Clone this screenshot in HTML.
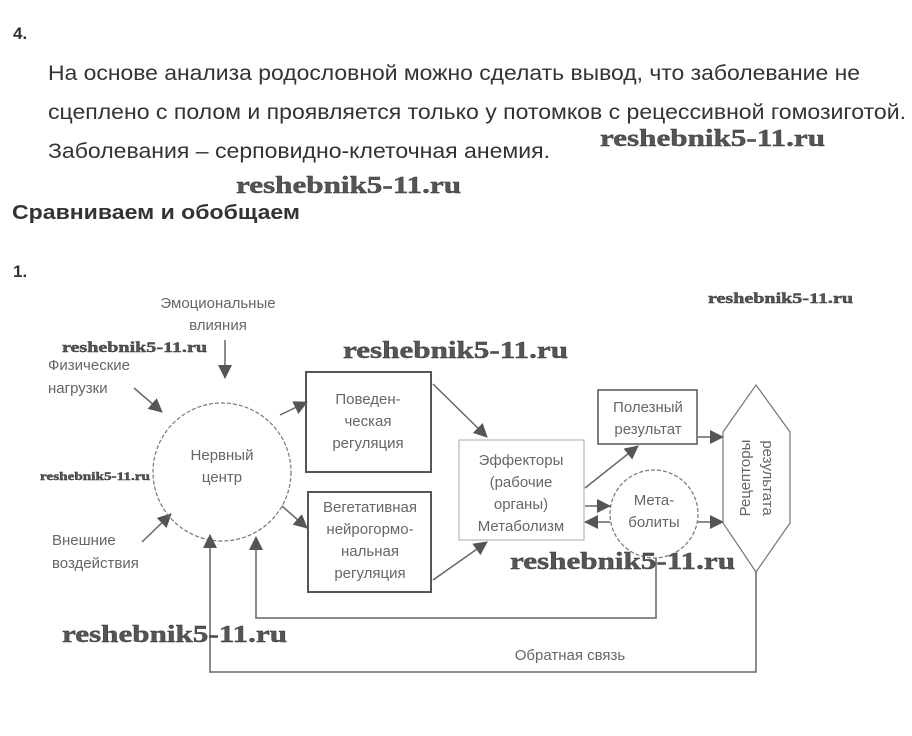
<!DOCTYPE html>
<html><head><meta charset="utf-8"><style>
html,body{margin:0;padding:0;background:#fff;}
svg{display:block;}
.t{font-family:"Liberation Sans",sans-serif;fill:#333;}
.d{font-family:"Liberation Sans",sans-serif;fill:#666;font-size:15px;}
.w{font-family:"Liberation Serif",serif;font-weight:bold;fill:#555;stroke:#333;stroke-width:0.4;}
.l{stroke:#666;stroke-width:1.5;fill:none;}
</style></head><body>
<svg width="912" height="736" viewBox="0 0 912 736" xmlns="http://www.w3.org/2000/svg">
<defs>
<marker id="b" markerWidth="14" markerHeight="14" refX="13" refY="7" orient="auto" markerUnits="userSpaceOnUse"><path d="M0,0 L14,7 L0,14 z" fill="#555"/></marker>
</defs>
<text class="t" x="13" y="39" font-size="17" font-weight="bold">4.</text>
<text class="t" x="48" y="80" font-size="21" textLength="812" lengthAdjust="spacingAndGlyphs">На основе анализа родословной можно сделать вывод, что заболевание не</text>
<text class="t" x="48" y="119" font-size="21" textLength="858" lengthAdjust="spacingAndGlyphs">сцеплено с полом и проявляется только у потомков с рецессивной гомозиготой.</text>
<text class="t" x="48" y="158" font-size="21" textLength="502" lengthAdjust="spacingAndGlyphs">Заболевания – серповидно-клеточная анемия.</text>
<text class="t" x="12" y="219" font-size="20" font-weight="bold" textLength="288" lengthAdjust="spacingAndGlyphs">Сравниваем и обобщаем</text>
<text class="t" x="13" y="277" font-size="17" font-weight="bold">1.</text>

<text class="d" x="218" y="308" text-anchor="middle">Эмоциональные</text>
<text class="d" x="218" y="330" text-anchor="middle" font-size="13">влияния</text>
<line class="l" x1="225" y1="340" x2="225" y2="378" marker-end="url(#b)"/>
<text class="d" x="48" y="370">Физические</text>
<text class="d" x="48" y="393">нагрузки</text>
<line class="l" x1="134" y1="388" x2="162" y2="412" marker-end="url(#b)"/>
<text class="d" x="52" y="545">Внешние</text>
<text class="d" x="52" y="568">воздействия</text>
<line class="l" x1="142" y1="542" x2="171" y2="514" marker-end="url(#b)"/>

<circle cx="222" cy="472" r="69" fill="none" stroke="#777" stroke-width="1.2" stroke-dasharray="4 2"/>
<text class="d" x="222" y="460" text-anchor="middle">Нервный</text>
<text class="d" x="222" y="482" text-anchor="middle">центр</text>

<rect x="306" y="372" width="125" height="100" fill="none" stroke="#555" stroke-width="2"/>
<text class="d" x="368" y="404" text-anchor="middle">Поведен-</text>
<text class="d" x="368" y="426" text-anchor="middle">ческая</text>
<text class="d" x="368" y="448" text-anchor="middle">регуляция</text>
<rect x="308" y="492" width="123" height="100" fill="none" stroke="#555" stroke-width="2"/>
<text class="d" x="370" y="512" text-anchor="middle" fill="#444">Вегетативная</text>
<text class="d" x="370" y="534" text-anchor="middle">нейрогормо-</text>
<text class="d" x="370" y="556" text-anchor="middle">нальная</text>
<text class="d" x="370" y="578" text-anchor="middle">регуляция</text>
<line class="l" x1="280" y1="415" x2="307" y2="402" marker-end="url(#b)"/>
<line class="l" x1="282" y1="506" x2="307" y2="528" marker-end="url(#b)"/>

<rect x="459" y="440" width="125" height="100" fill="none" stroke="#aaa" stroke-width="1"/>
<text class="d" x="521" y="465" text-anchor="middle">Эффекторы</text>
<text class="d" x="521" y="487" text-anchor="middle">(рабочие</text>
<text class="d" x="521" y="509" text-anchor="middle">органы)</text>
<text class="d" x="521" y="531" text-anchor="middle">Метаболизм</text>
<line class="l" x1="433" y1="384" x2="487" y2="437" marker-end="url(#b)"/>
<line class="l" x1="433" y1="580" x2="487" y2="542" marker-end="url(#b)"/>

<rect x="598" y="390" width="99" height="54" fill="none" stroke="#555" stroke-width="1.5"/>
<text class="d" x="648" y="412" text-anchor="middle">Полезный</text>
<text class="d" x="648" y="434" text-anchor="middle">результат</text>
<line class="l" x1="585" y1="488" x2="638" y2="446" marker-end="url(#b)"/>
<line class="l" x1="698" y1="437" x2="723" y2="437" marker-end="url(#b)"/>

<circle cx="654" cy="514" r="44" fill="none" stroke="#777" stroke-width="1.2" stroke-dasharray="4 2"/>
<text class="d" x="654" y="505" text-anchor="middle">Мета-</text>
<text class="d" x="654" y="527" text-anchor="middle">болиты</text>
<line class="l" x1="585" y1="506" x2="610" y2="506" marker-end="url(#b)"/>
<line class="l" x1="610" y1="522" x2="585" y2="522" marker-end="url(#b)"/>
<line class="l" x1="698" y1="522" x2="723" y2="522" marker-end="url(#b)"/>

<polygon points="756,385 790,432 790,523 756,572 723,523 723,432" fill="none" stroke="#777" stroke-width="1.2"/>
<text class="d" transform="translate(750,478) rotate(-90)" text-anchor="middle">Рецепторы</text>
<text class="d" transform="translate(763,478) rotate(90)" text-anchor="middle">результата</text>

<polyline class="l" points="656,558 656,618 256,618 256,537" marker-end="url(#b)" stroke="#888"/>
<polyline class="l" points="756,572 756,672 210,672 210,535" marker-end="url(#b)"/>
<text class="d" x="570" y="660" text-anchor="middle">Обратная связь</text>

<text class="w" x="600" y="146" font-size="24" textLength="225" lengthAdjust="spacingAndGlyphs">reshebnik5-11.ru</text>
<text class="w" x="236" y="193" font-size="24" textLength="225" lengthAdjust="spacingAndGlyphs">reshebnik5-11.ru</text>
<text class="w" x="708" y="303" font-size="15" textLength="145" lengthAdjust="spacingAndGlyphs">reshebnik5-11.ru</text>
<text class="w" x="62" y="352" font-size="15" textLength="145" lengthAdjust="spacingAndGlyphs">reshebnik5-11.ru</text>
<text class="w" x="343" y="358" font-size="24" textLength="225" lengthAdjust="spacingAndGlyphs">reshebnik5-11.ru</text>
<text class="w" x="40" y="480" font-size="12" textLength="110" lengthAdjust="spacingAndGlyphs">reshebnik5-11.ru</text>
<text class="w" x="510" y="569" font-size="24" textLength="225" lengthAdjust="spacingAndGlyphs">reshebnik5-11.ru</text>
<text class="w" x="62" y="642" font-size="24" textLength="225" lengthAdjust="spacingAndGlyphs">reshebnik5-11.ru</text>
</svg>
</body></html>
